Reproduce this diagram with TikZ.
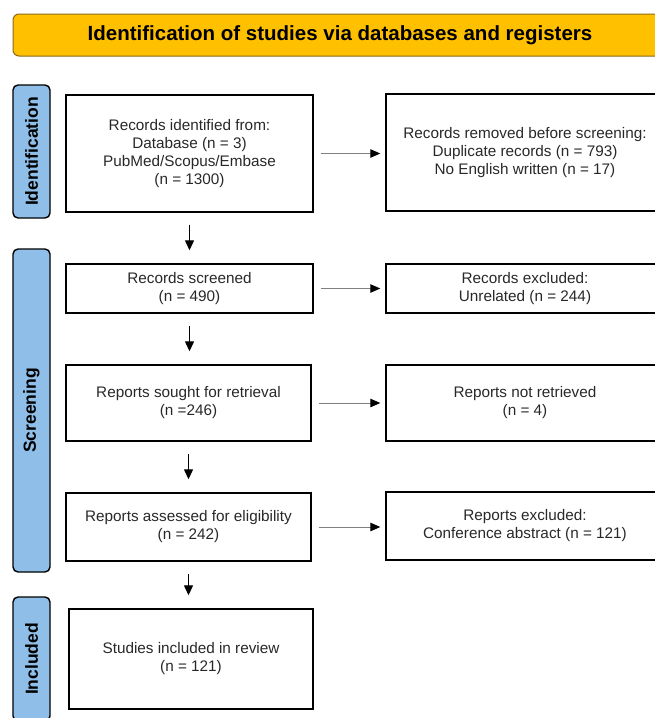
\documentclass[tikz,border=0pt]{standalone}
\usepackage{fontspec}
\setmainfont{Liberation Sans}
\usetikzlibrary{arrows.meta}
\definecolor{prismagold}{RGB}{255,192,0}
\definecolor{prismaedge}{RGB}{140,105,20}
\definecolor{prismablue}{RGB}{143,191,232}
\definecolor{bodytext}{RGB}{40,40,40}
\begin{document}
\begin{tikzpicture}[x=1pt,y=-1pt,
    box/.style={draw=black,line width=1.4pt,align=center,text=bodytext,
        font=\fontsize{15.3}{18}\selectfont,inner sep=0pt},
    phase/.style={draw=black,line width=1.4pt,fill=prismablue,rounded corners=5pt,
        rotate=90,minimum height=37pt,inner sep=0pt,
        font=\fontsize{17.5}{18}\selectfont\bfseries},
    down/.style={-{Triangle[length=10pt,width=9pt]},line width=1.3pt,
        shorten <=12pt,shorten >=13pt},
    side/.style={-{Triangle[length=10pt,width=8.5pt,color=black]},draw=gray,
        line width=1pt,shorten <=7pt,shorten >=5pt}]
            \useasboundingbox (0,0) rectangle (655,718);
            \clip (0,0) rectangle (655,718);
            \node[draw=prismaedge,fill=prismagold,line width=1pt,rounded corners=6pt,
                minimum width=654pt,minimum height=42pt,
                font=\fontsize{20.5}{22}\selectfont\bfseries] (title) at (340,35)
                {Identification of studies via databases and registers};
            % phases
            \node[phase,minimum width=133pt] (ident) at (31.5,151.5) {Identification};
            \node[phase,minimum width=323pt] (screen) at (31.5,410.5) {Screening};
            \node[phase,minimum width=124pt] (incl) at (31.5,659) {Included};
            % left column
            \node[box,minimum width=247pt,minimum height=117pt] (found) at (189.5,153.5)
                {Records identified from:\\Database (n = 3)\\PubMed/Scopus/Embase\\(n = 1300)};
            \node[box,minimum width=247pt,minimum height=49pt] (screened) at (189.5,288.5)
                {Records screened\\(n = 490)};
            \node[box,minimum width=245pt,minimum height=76pt] (sought) at (188.5,403)
                {Reports sought for retrieval\\(n =246)};
            \node[box,minimum width=245pt,minimum height=68pt] (assessed) at (188.5,527)
                {Reports assessed for eligibility\\(n = 242)};
            \node[box,minimum width=244pt,minimum height=100pt] (included) at (191,659)
                {Studies included in review\\(n = 121)};
            % right column
            \node[box,minimum width=278pt,minimum height=117pt] (removed) at (525,152.5)
                {Records removed before screening:\\Duplicate records (n = 793)\\No English written (n = 17)};
            \node[box,minimum width=278pt,minimum height=49pt] (excluded) at (525,288.5)
                {Records excluded:\\Unrelated (n = 244)};
            \node[box,minimum width=278pt,minimum height=76pt] (notret) at (525,403)
                {Reports not retrieved\\(n = 4)};
            \node[box,minimum width=278pt,minimum height=68pt] (repexcl) at (525,526)
                {Reports excluded:\\Conference abstract (n = 121)};
            % arrows
            \draw[down] (found.south) -- (found.south |- screened.north);
            \draw[down] (screened.south) -- (screened.south |- sought.north);
            \draw[down] (sought.south) -- (sought.south |- assessed.north);
            \draw[down] (assessed.south) -- (assessed.south |- included.north);
            \draw[side] (found.east) -- (found.east -| removed.west);
            \draw[side] (screened.east) -- (screened.east -| excluded.west);
            \draw[side] (sought.east) -- (sought.east -| notret.west);
            \draw[side] (assessed.east) -- (assessed.east -| repexcl.west);
\end{tikzpicture}
\end{document}
